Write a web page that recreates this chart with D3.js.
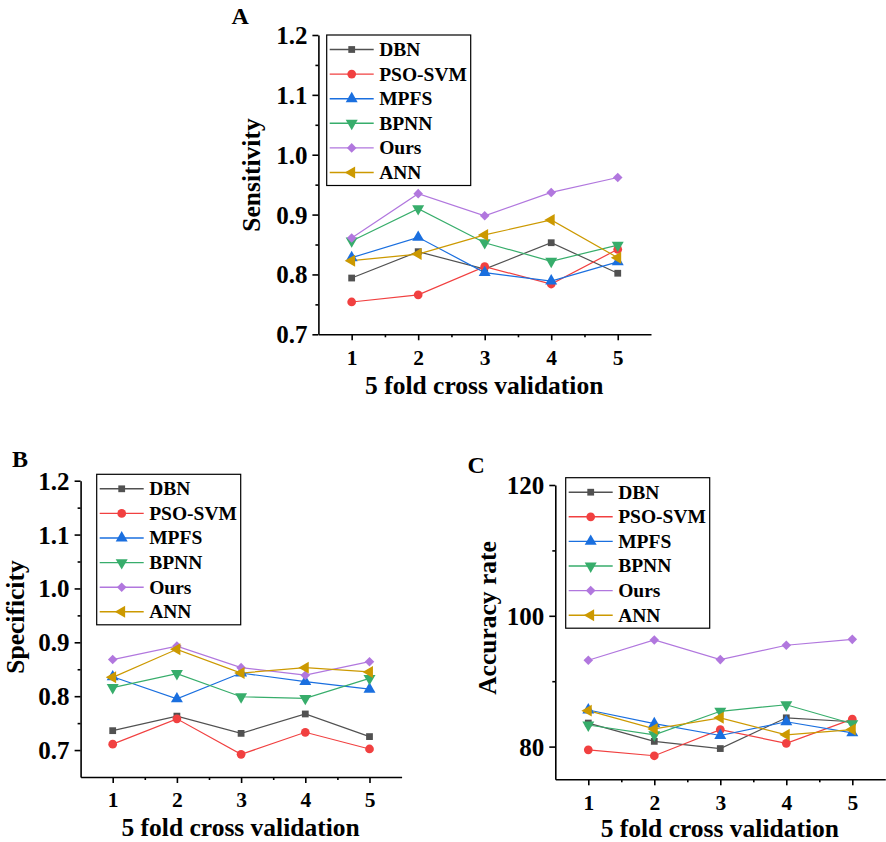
<!DOCTYPE html>
<html>
<head>
<meta charset="utf-8">
<script src="https://cdn.jsdelivr.net/npm/d3@7"></script>
<style>
  html, body { margin: 0; padding: 0; background: #fff; }
  svg { display: block; }
  text { font-family: "Liberation Serif", "Times New Roman", serif; font-weight: bold; fill: #000; }
</style>
</head>
<body>
<svg id="chart" width="886" height="842"></svg>
<script>
// ---- data ----
const folds = [1, 2, 3, 4, 5];
const methods = ["DBN", "PSO-SVM", "MPFS", "BPNN", "Ours", "ANN"];
const methodColors = ["#515151", "#F14040", "#1A6FDF", "#37AD6B", "#B177DE", "#CC9900"];

// rows follow the order of `methods`
const sensitivity = [
  [0.794, 0.838, 0.809, 0.853, 0.802],
  [0.754, 0.766, 0.813, 0.784, 0.842],
  [0.828, 0.862, 0.803, 0.789, 0.821],
  [0.856, 0.910, 0.853, 0.822, 0.849],
  [0.861, 0.935, 0.898, 0.937, 0.962],
  [0.823, 0.834, 0.866, 0.891, 0.828]
];
const specificity = [
  [0.736, 0.763, 0.731, 0.767, 0.725],
  [0.711, 0.758, 0.692, 0.733, 0.702],
  [0.836, 0.795, 0.843, 0.827, 0.813],
  [0.816, 0.842, 0.799, 0.796, 0.833],
  [0.868, 0.893, 0.853, 0.839, 0.864],
  [0.835, 0.887, 0.843, 0.853, 0.845]
];
const accuracy = [
  [83.6, 80.8, 79.7, 84.4, 83.8],
  [79.5, 78.6, 82.6, 80.5, 84.2],
  [85.6, 83.5, 81.7, 83.8, 82.1],
  [83.3, 81.8, 85.4, 86.4, 83.5],
  [93.2, 96.3, 93.3, 95.5, 96.4],
  [85.5, 82.7, 84.4, 81.8, 82.6]
];

const ratioTicks = [0.7, 0.8, 0.9, 1.0, 1.1, 1.2];
const ratioMinorTicks = [0.75, 0.85, 0.95, 1.05, 1.15];
const accuracyTicks = [80, 100, 120];
const accuracyMinorTicks = [90, 110];
const foldMinorTicks = [1.5, 2.5, 3.5, 4.5];
const xTitle = "5 fold cross validation";

// ---- layout ----
const panels = [
  { letter: "A", letterPos: [231.5, 24], title: "Sensitivity", titleX: 251, titleY: 175,
    values: sensitivity, yDomain: [0.7, 1.2], yTicks: ratioTicks, yMinor: ratioMinorTicks, fmt: d3.format(".1f"),
    x: [318.4, 651], y: [334.3, 35], xTitleY: 394, legend: [326.7, 35] },
  { letter: "B", letterPos: [12, 466.7], title: "Specificity", titleX: 15, titleY: 617,
    values: specificity, yDomain: [0.65, 1.2], yTicks: ratioTicks, yMinor: ratioMinorTicks, fmt: d3.format(".1f"),
    x: [80.6, 401.6], y: [777, 480.7], xTitleY: 836, legend: [96.7, 474.3] },
  { letter: "C", letterPos: [467.5, 472.7], title: "Accuracy rate", titleX: 487, titleY: 618,
    values: accuracy, yDomain: [75, 120], yTicks: accuracyTicks, yMinor: accuracyMinorTicks, fmt: d3.format("d"),
    x: [555.3, 885.3], y: [779.3, 485], xTitleY: 837, legend: [565.7, 477.7] }
];

const svg = d3.select("#chart");

// marker shapes: square, circle, up, down, diamond, left-pointing triangle
function markerPath(i) {
  const shapes = [
    [d3.symbolSquare, 46, 0],
    [d3.symbolCircle, 60, 0],
    [d3.symbolTriangle, 62, 0],
    [d3.symbolTriangle, 62, 180],
    [d3.symbolSquare, 46, 45],
    [d3.symbolTriangle, 62, -90]
  ];
  const [type, size, rot] = shapes[i];
  return { d: d3.symbol().type(type).size(size)(), rot };
}

function drawMarker(g, i, cx, cy) {
  const m = markerPath(i);
  g.append("path")
    .attr("d", m.d)
    .attr("transform", `translate(${cx},${cy}) rotate(${m.rot})`)
    .attr("fill", methodColors[i]);
}

panels.forEach(p => {
  const g = svg.append("g");
  const x = d3.scaleLinear().domain([0.5, 5.5]).range(p.x);
  const y = d3.scaleLinear().domain(p.yDomain).range(p.y);

  // bottom axis
  const xAxis = g.append("g")
    .attr("transform", `translate(0,${p.y[0]})`)
    .call(d3.axisBottom(x).tickValues(folds).tickFormat(d3.format("d")).tickSize(6).tickSizeOuter(0).tickPadding(9));
  xAxis.selectAll("text").style("font-size", "21.5px");
  g.append("g")
    .attr("transform", `translate(0,${p.y[0]})`)
    .call(d3.axisBottom(x).tickValues(foldMinorTicks).tickFormat("").tickSize(3).tickSizeOuter(0))
    .call(a => a.select(".domain").remove());

  // left axis
  const yAxis = g.append("g")
    .attr("transform", `translate(${p.x[0]},0)`)
    .call(d3.axisLeft(y).tickValues(p.yTicks).tickFormat(p.fmt).tickSize(6).tickSizeOuter(0).tickPadding(5));
  yAxis.selectAll("text").style("font-size", "25px").attr("dy", "0.34em");
  g.append("g")
    .attr("transform", `translate(${p.x[0]},0)`)
    .call(d3.axisLeft(y).tickValues(p.yMinor).tickFormat("").tickSize(3).tickSizeOuter(0))
    .call(a => a.select(".domain").remove());

  g.selectAll(".domain, .tick line").attr("stroke", "#000").attr("stroke-width", 1.6);

  // series
  const line = d3.line().x((d, k) => x(folds[k])).y(d => y(d));
  p.values.forEach((vals, i) => {
    g.append("path")
      .attr("d", line(vals))
      .attr("fill", "none")
      .attr("stroke", methodColors[i])
      .attr("stroke-width", 1.2);
  });
  p.values.forEach((vals, i) => {
    vals.forEach((v, k) => drawMarker(g, i, x(folds[k]), y(v)));
  });

  // axis titles
  g.append("text")
    .attr("x", (p.x[0] + p.x[1]) / 2 - 0.5)
    .attr("y", p.xTitleY)
    .attr("text-anchor", "middle")
    .style("font-size", "25.5px")
    .text(xTitle);
  g.append("text")
    .attr("transform", `translate(${p.titleX},${p.titleY}) rotate(-90)`)
    .attr("text-anchor", "middle")
    .attr("dy", "0.35em")
    .style("font-size", "25.5px")
    .text(p.title);

  // panel letter
  g.append("text")
    .attr("x", p.letterPos[0])
    .attr("y", p.letterPos[1])
    .style("font-size", "24px")
    .text(p.letter);

  // legend
  const [lx, ly] = p.legend;
  const lg = g.append("g").attr("transform", `translate(${lx},${ly})`);
  lg.append("rect")
    .attr("width", 144).attr("height", 150.5)
    .attr("fill", "#fff").attr("stroke", "#000").attr("stroke-width", 1.2);
  methods.forEach((name, i) => {
    const ry = 14.5 + i * 24.6;
    lg.append("line")
      .attr("x1", 3).attr("x2", 47).attr("y1", ry).attr("y2", ry)
      .attr("stroke", methodColors[i]).attr("stroke-width", 1.4);
    drawMarker(lg, i, 25, ry);
    lg.append("text")
      .attr("x", 52.5).attr("y", ry + 6.5)
      .style("font-size", "19.5px")
      .text(name);
  });
});
</script>
</body>
</html>
